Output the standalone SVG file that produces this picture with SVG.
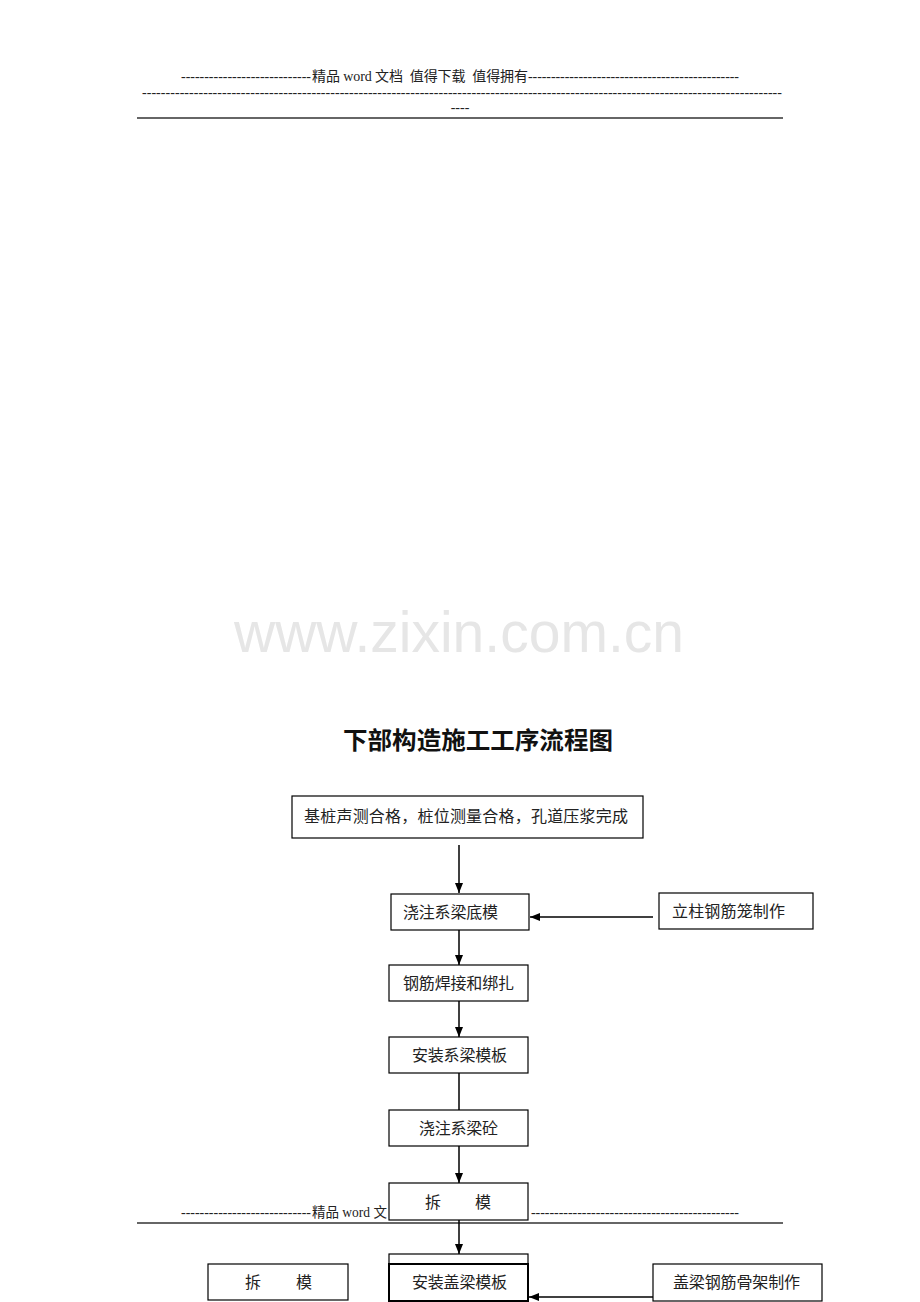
<svg xmlns="http://www.w3.org/2000/svg" width="920" height="1302" viewBox="0 0 920 1302">
<style>
.hdr{font-family:"Liberation Serif","Noto Sans CJK SC",serif;font-size:14px;fill:#222}
.box{fill:#fff;stroke:#000;stroke-width:1.2}
.lbl{font-family:"Liberation Serif","Noto Sans CJK SC",serif;font-size:16px;fill:#222}
.ln{stroke:#000;stroke-width:1.5;fill:none}
</style>
<defs>
<marker id="ah" viewBox="0 0 10 10" refX="10" refY="5" markerWidth="10" markerHeight="10" markerUnits="userSpaceOnUse" orient="auto">
<path d="M0,1 L10,5 L0,9 Z" fill="#000"/>
</marker>
</defs>
<rect width="920" height="1302" fill="#fff"/>
<g id="header">
<text class="hdr" y="81" xml:space="preserve"><tspan x="181" textLength="130" lengthAdjust="spacing">----------------------------</tspan><tspan x="312" textLength="216" lengthAdjust="spacing">精品 word 文档  值得下载  值得拥有</tspan><tspan x="528" textLength="211" lengthAdjust="spacing">----------------------------------------------</tspan></text>
<text class="hdr" x="142" y="97" textLength="640" lengthAdjust="spacing">----------------------------------------------------------------------------------------------------------------------------------------</text>
<text class="hdr" x="460" y="112" text-anchor="middle">----</text>
<line x1="137" y1="118" x2="783" y2="118" stroke="#333" stroke-width="1.6"/>
</g>
<g id="watermark">
<text x="234" y="652" textLength="450" lengthAdjust="spacingAndGlyphs" font-family="Liberation Sans, Arial, sans-serif" font-size="58" fill="#e6e6e6">www.zixin.com.cn</text>
</g>
<g id="title">
<text x="478" y="749" text-anchor="middle" font-family="Noto Sans CJK SC, sans-serif" font-weight="bold" font-size="24" fill="#111" textLength="270" lengthAdjust="spacingAndGlyphs">下部构造施工工序流程图</text>
</g>
<g id="footer">
<text class="hdr" y="1217"><tspan x="181" textLength="130" lengthAdjust="spacing">----------------------------</tspan><tspan x="312" textLength="75" lengthAdjust="spacingAndGlyphs">精品 word 文</tspan></text>
<text class="hdr" x="531" y="1217" textLength="208" lengthAdjust="spacing">---------------------------------------------</text>
<line x1="137" y1="1223" x2="783" y2="1223" stroke="#333" stroke-width="1.6"/>
</g>
<g id="connectors">
<line class="ln" x1="459" y1="845" x2="459" y2="893" marker-end="url(#ah)"/>
<line class="ln" x1="653" y1="917" x2="530" y2="917" marker-end="url(#ah)"/>
<line class="ln" x1="459" y1="930" x2="459" y2="965" marker-end="url(#ah)"/>
<line class="ln" x1="459" y1="1001" x2="459" y2="1037" marker-end="url(#ah)"/>
<line class="ln" x1="459" y1="1073" x2="459" y2="1110"/>
<line class="ln" x1="459" y1="1146" x2="459" y2="1183" marker-end="url(#ah)"/>
<line class="ln" x1="459" y1="1220" x2="459" y2="1254" marker-end="url(#ah)"/>
<line class="ln" x1="653" y1="1297" x2="529" y2="1297" marker-end="url(#ah)"/>
</g>
<g id="n1">
<rect class="box" x="292" y="796" width="351" height="42"/>
<text class="lbl" x="304" y="822" textLength="324" lengthAdjust="spacing">基桩声测合格，桩位测量合格，孔道压浆完成</text>
</g>
<g id="n2">
<rect class="box" x="391" y="894" width="138" height="36"/>
<text class="lbl" x="403" y="918" textLength="95" lengthAdjust="spacing">浇注系梁底模</text>
</g>
<g id="n3">
<rect class="box" x="659" y="893" width="154" height="36"/>
<text class="lbl" x="672" y="917" textLength="113" lengthAdjust="spacing">立柱钢筋笼制作</text>
</g>
<g id="n4">
<rect class="box" x="389" y="965" width="139" height="36"/>
<text class="lbl" x="403" y="989" textLength="111" lengthAdjust="spacing">钢筋焊接和绑扎</text>
</g>
<g id="n5">
<rect class="box" x="389" y="1037" width="139" height="36"/>
<text class="lbl" x="412" y="1061" textLength="95" lengthAdjust="spacing">安装系梁模板</text>
</g>
<g id="n6">
<rect class="box" x="389" y="1110" width="139" height="36"/>
<text class="lbl" x="419" y="1134" textLength="79" lengthAdjust="spacing">浇注系梁砼</text>
</g>
<g id="n7">
<rect class="box" x="389" y="1183" width="139" height="37"/>
<text class="lbl" x="425" y="1208">拆</text>
<text class="lbl" x="475" y="1208">模</text>
</g>
<g id="n8">
<rect class="box" x="389" y="1254" width="139" height="10"/>
<rect x="389" y="1264" width="139" height="37" fill="#fff" stroke="#000" stroke-width="2"/>
<text class="lbl" x="412" y="1288" textLength="95" lengthAdjust="spacing">安装盖梁模板</text>
</g>
<g id="n9">
<rect class="box" x="208" y="1264" width="140" height="36"/>
<text class="lbl" x="245" y="1288">拆</text>
<text class="lbl" x="296" y="1288">模</text>
</g>
<g id="n10">
<rect class="box" x="653" y="1264" width="169" height="37"/>
<text class="lbl" x="673" y="1288" textLength="127" lengthAdjust="spacing">盖梁钢筋骨架制作</text>
</g>
</svg>
